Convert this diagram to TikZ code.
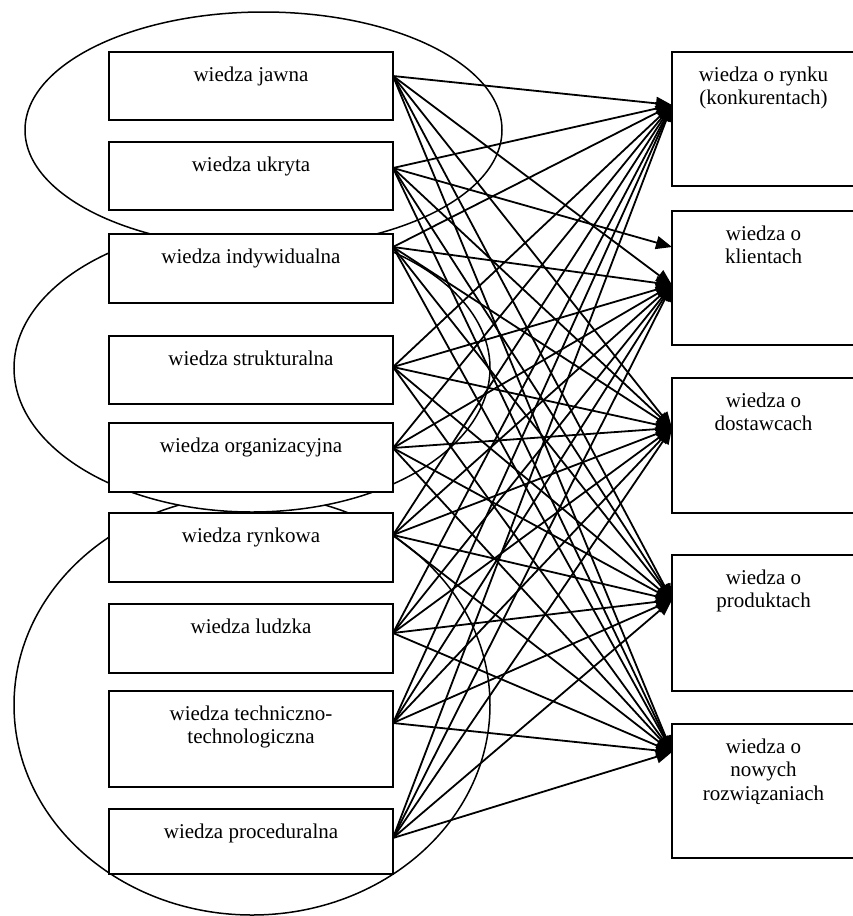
\documentclass[tikz,border=0pt]{standalone}
\usepackage{fontspec}
\setmainfont{Liberation Serif}
\usetikzlibrary{positioning, arrows.meta}

\newcommand{\boxtxt}[3]{\parbox[c][#1][t]{#2}{\centering\rule{0pt}{29pt}#3}}

\begin{document}
\begin{tikzpicture}[x=1pt, y=-1pt, font=\fontsize{21}{23.5}\selectfont,
	kbox/.style={draw, fill=white, line width=1.8pt, inner sep=0pt, outer sep=0pt},
	ring/.style={draw, fill=white, line width=1.5pt},
	arr/.style={-{Triangle[length=16pt,width=13pt]}, line width=1.8pt}]

	\useasboundingbox (0,0) rectangle (853,916);

	% ellipses round the groups %
	\draw[ring] (252,705) ellipse [x radius=238pt, y radius=210pt];
	\draw[ring] (252,368) ellipse [x radius=238pt, y radius=144pt];
	\draw[ring] (263.5,130) ellipse [x radius=238.5pt, y radius=118pt];

	% nodes - left column %
	\node[kbox, anchor=north west] (jawna) at (109,52) {\boxtxt{68pt}{284pt}{wiedza jawna}};
	\node[kbox, below=22pt of jawna] (ukryta) {\boxtxt{68pt}{284pt}{wiedza ukryta}};
	\node[kbox, below=24pt of ukryta] (indywidualna) {\boxtxt{69pt}{284pt}{wiedza indywidualna}};
	\node[kbox, below=33pt of indywidualna] (strukturalna) {\boxtxt{68pt}{284pt}{wiedza strukturalna}};
	\node[kbox, below=19pt of strukturalna] (organizacyjna) {\boxtxt{69pt}{284pt}{wiedza organizacyjna}};
	\node[kbox, below=21pt of organizacyjna] (rynkowa) {\boxtxt{69pt}{284pt}{wiedza rynkowa}};
	\node[kbox, below=22pt of rynkowa] (ludzka) {\boxtxt{69pt}{284pt}{wiedza ludzka}};
	\node[kbox, below=18pt of ludzka] (techniczna) {\boxtxt{96pt}{284pt}{wiedza techniczno-\\technologiczna}};
	\node[kbox, below=22pt of techniczna] (proceduralna) {\boxtxt{65pt}{284pt}{wiedza proceduralna}};

	% nodes - right column %
	\node[kbox, anchor=north west] (rynek) at (672,52) {\boxtxt{134pt}{183pt}{wiedza o rynku\\(konkurentach)}};
	\node[kbox, below=25pt of rynek] (klienci) {\boxtxt{134pt}{183pt}{wiedza o\\klientach}};
	\node[kbox, below=33pt of klienci] (dostawcy) {\boxtxt{135pt}{183pt}{wiedza o\\dostawcach}};
	\node[kbox, below=42pt of dostawcy] (produkty) {\boxtxt{136pt}{183pt}{wiedza o\\produktach}};
	\node[kbox, below=33pt of produkty] (nowe) {\boxtxt{134pt}{183pt}{wiedza o\\nowych\\rozwiązaniach}};

	% ends of the edges %
	\coordinate (jawna-o) at ([yshift=-24pt]jawna.north east);
	\coordinate (ukryta-o) at ([yshift=-26pt]ukryta.north east);
	\coordinate (indywidualna-o) at ([yshift=-13pt]indywidualna.north east);
	\coordinate (strukturalna-o) at ([yshift=-31pt]strukturalna.north east);
	\coordinate (organizacyjna-o) at ([yshift=-25pt]organizacyjna.north east);
	\coordinate (rynkowa-o) at ([yshift=-22pt]rynkowa.north east);
	\coordinate (ludzka-o) at ([yshift=-29pt]ludzka.north east);
	\coordinate (techniczna-o) at ([yshift=-32pt]techniczna.north east);
	\coordinate (proceduralna-o) at ([yshift=-29pt]proceduralna.north east);

	\coordinate (rynek-i) at ([yshift=-53pt]rynek.north west);
	\coordinate (klienci-u) at ([yshift=-36pt]klienci.north west);
	\coordinate (klienci-i) at ([yshift=-74pt]klienci.north west);
	\coordinate (dostawcy-i) at ([yshift=-50pt]dostawcy.north west);
	\coordinate (produkty-i) at ([yshift=-45pt]produkty.north west);
	\coordinate (nowe-i) at ([yshift=-28pt]nowe.north west);

	% edges %
	\foreach \src in {jawna,indywidualna,strukturalna,organizacyjna,rynkowa,ludzka,techniczna,proceduralna}
		\foreach \dst in {rynek,klienci,dostawcy,produkty,nowe}
			\draw[arr] (\src-o) -- (\dst-i);
	\foreach \dst in {rynek-i,klienci-u,dostawcy-i,produkty-i,nowe-i}
		\draw[arr] (ukryta-o) -- (\dst);

\end{tikzpicture}
\end{document}
